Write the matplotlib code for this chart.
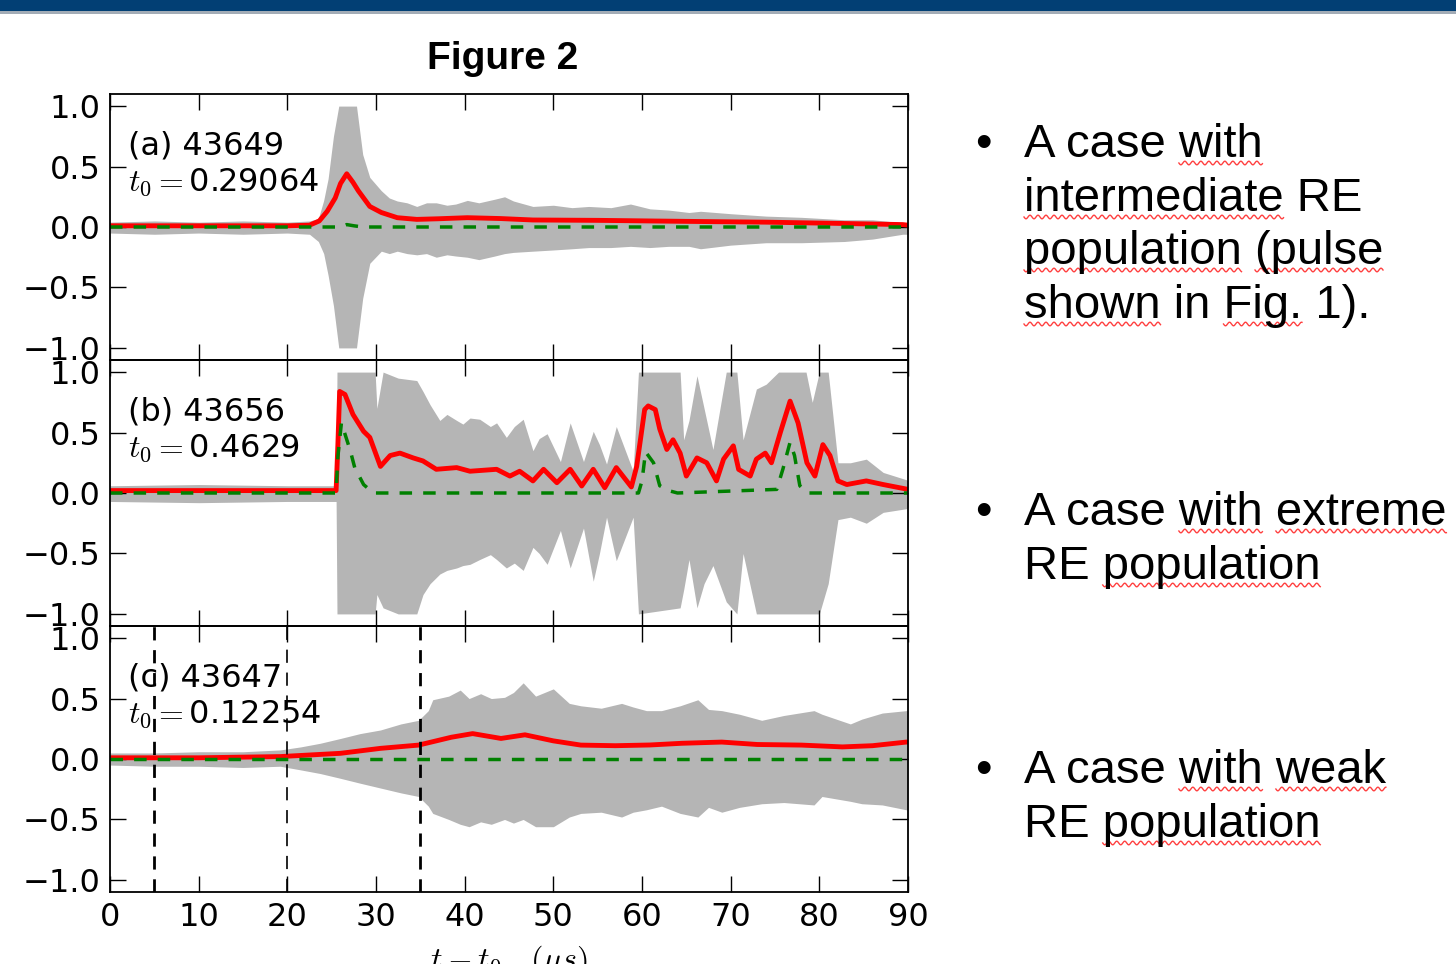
import numpy as np
import matplotlib
matplotlib.use("Agg")
import matplotlib.pyplot as plt
from matplotlib.patches import Rectangle
from matplotlib.lines import Line2D
from matplotlib.font_manager import FontProperties

plt.rcParams['font.family'] = 'DejaVu Sans'
plt.rcParams['mathtext.fontset'] = 'cm'
plt.rcParams['lines.scale_dashes'] = False

W, H = 1456, 964

# ---- shot 43649 (a) ----
xa_env = [0, 5, 10, 15, 20, 22.5, 23.5, 24.1, 24.6, 25.2, 25.8, 27.8, 28.5, 29.3, 30.6,
          31.5, 32.4, 33.5, 34.6, 35.7, 36.8, 38, 39, 40.3, 41.6, 43.4, 44.5, 45.5, 47.7, 50,
          52.1, 54, 56.5, 58.7, 60.9, 63, 65.3, 66.6, 70, 74, 78, 82.8, 86, 89.4, 90]
ua = [0.04, 0.05, 0.04, 0.05, 0.04, 0.05, 0.07, 0.22, 0.4, 0.75, 1.0, 1.0, 0.6, 0.41, 0.3,
      0.24, 0.215, 0.2, 0.17, 0.2, 0.2, 0.18, 0.19, 0.22, 0.2, 0.23, 0.25, 0.215, 0.17, 0.18,
      0.16, 0.17, 0.16, 0.19, 0.15, 0.14, 0.12, 0.13, 0.11, 0.09, 0.08, 0.06, 0.06, 0.035, 0.03]
la = [-0.05, -0.06, -0.05, -0.06, -0.05, -0.06, -0.12, -0.22, -0.4, -0.65, -1.0, -1.0, -0.59, -0.3, -0.2,
      -0.22, -0.2, -0.22, -0.23, -0.22, -0.25, -0.23, -0.24, -0.25, -0.27, -0.24, -0.22, -0.21, -0.2, -0.19,
      -0.18, -0.17, -0.17, -0.16, -0.17, -0.16, -0.16, -0.18, -0.15, -0.13, -0.13, -0.12, -0.1, -0.06, -0.06]
xa_red = [0, 10, 20, 22.5, 23.6, 24.5, 25.4, 26.0, 26.7, 27.4, 28.0, 29.3, 30.6,
          32.4, 34.6, 37, 40.3, 44, 47.7, 55, 60.9, 67, 74, 82, 89.4, 90]
ya_red = [0.01, 0.01, 0.01, 0.015, 0.05, 0.13, 0.24, 0.36, 0.44, 0.37, 0.30, 0.17, 0.12,
          0.077, 0.063, 0.068, 0.077, 0.07, 0.058, 0.055, 0.05, 0.045, 0.04, 0.03, 0.02, 0.015]
xa_green = [0, 26.0, 26.7, 27.5, 28.5, 90]
ya_green = [0, 0, 0.02, 0.01, 0, 0]

# ---- shot 43656 (b) ----
xb_env = [0, 10, 20, 25.5, 25.6, 29.9, 30.1, 30.8, 32.5, 34.6, 35.3, 36.1, 37.2, 38, 39.1,
          39.8, 40.6, 41.7, 42.9, 43.6, 44.7, 45.6, 46.6, 47.7, 48.4, 49.3, 50.8, 51.9, 53.4, 54.5,
          55.2, 56.0, 57.1, 59.0, 59.6, 64.3, 64.7, 65.3, 66.2, 67.0, 68.0, 69.5, 70.7, 71.4, 72.9,
          74.0, 75.4, 78.5, 79.2, 80.0, 81.0, 82.1, 83.5, 85.3, 87.2, 89.8, 90]
ub = [0.06, 0.07, 0.06, 0.06, 1.0, 1.0, 0.7, 1.0, 0.95, 0.93, 0.84, 0.73, 0.6, 0.65, 0.6,
      0.57, 0.62, 0.61, 0.55, 0.58, 0.46, 0.55, 0.61, 0.35, 0.45, 0.49, 0.26, 0.58, 0.26, 0.51,
      0.4, 0.24, 0.55, 0.18, 1.0, 1.0, 0.44, 0.6, 0.97, 0.7, 0.36, 1.0, 1.0, 0.44, 0.86,
      0.9, 1.0, 1.0, 0.75, 1.0, 1.0, 0.25, 0.25, 0.28, 0.17, 0.11, 0.1]
lb = [-0.07, -0.08, -0.07, -0.07, -1.0, -1.0, -0.84, -0.95, -1.0, -1.0, -0.84, -0.75, -0.67, -0.64, -0.62,
      -0.6, -0.59, -0.55, -0.51, -0.55, -0.62, -0.58, -0.64, -0.45, -0.5, -0.59, -0.31, -0.62, -0.29, -0.73,
      -0.5, -0.2, -0.56, -0.2, -1.0, -0.95, -0.8, -0.55, -0.95, -0.75, -0.6, -0.9, -1.0, -0.5, -1.0,
      -1.0, -1.0, -1.0, -1.0, -1.0, -0.75, -0.22, -0.2, -0.25, -0.16, -0.13, -0.12]
xb_red = [0, 10, 20, 25.5, 25.7, 25.9, 26.5, 27.4, 28.6, 29.3, 30.5, 31.6, 32.7, 34.2, 35.3,
          36.8, 39.1, 40.6, 43.6, 45.1, 46.2, 47.7, 48.9, 50.4, 51.9, 53.2, 54.5, 55.8, 57.1, 58.8,
          59.4, 60.3, 60.7, 61.5, 62.0, 62.8, 63.5, 64.3, 65.0, 66.2, 67.3, 68.4, 69.2, 70.3, 70.9,
          72.2, 72.9, 73.9, 74.6, 75.6, 76.7, 77.6, 78.6, 79.5, 80.4, 81.2, 82.1, 83.1, 85.3, 87.2, 90]
yb_red = [0.02, 0.02, 0.02, 0.02, 0.4, 0.84, 0.815, 0.65, 0.51, 0.46, 0.22, 0.31, 0.33, 0.29, 0.265,
          0.196, 0.21, 0.18, 0.196, 0.14, 0.18, 0.10, 0.196, 0.085, 0.196, 0.058, 0.196, 0.044, 0.21, 0.05,
          0.22, 0.69, 0.72, 0.69, 0.53, 0.36, 0.44, 0.33, 0.14, 0.29, 0.25, 0.10, 0.28, 0.39, 0.195,
          0.14, 0.28, 0.33, 0.25, 0.50, 0.76, 0.58, 0.25, 0.14, 0.40, 0.31, 0.10, 0.07, 0.10, 0.07, 0.03]
xb_green = [0, 25.5, 25.7, 26.1, 27.1, 27.6, 28.6, 29.7, 59.6, 60.0, 60.4, 61.3, 62.0, 63.0, 64.0,
            75.2, 75.9, 76.7, 77.2, 77.8, 78.6, 90]
yb_green = [0, 0, 0.3, 0.58, 0.35, 0.21, 0.07, 0, 0, 0.1, 0.34, 0.25, 0.06, 0.02, 0,
            0.03, 0.2, 0.42, 0.31, 0.06, 0, 0]

# ---- shot 43647 (c) ----
xc_env = [0, 5, 10, 15, 19.2, 21.5, 23.7, 26, 28.2, 30.5, 32.8, 34.8, 35.9, 36.4, 38.2,
          39.5, 40.5, 41.8, 43, 44.5, 45.5, 46.6, 48, 50, 51.8, 53.1, 55.4, 57.7, 59, 60.5,
          62.2, 64.3, 66.3, 67.5, 69, 71, 73.5, 76, 79.4, 80.3, 83.5, 84.8, 87.1, 89.8, 90]
uc = [0.05, 0.05, 0.06, 0.06, 0.075, 0.1, 0.13, 0.17, 0.21, 0.24, 0.29, 0.32, 0.4, 0.49, 0.52,
      0.57, 0.5, 0.54, 0.5, 0.51, 0.55, 0.63, 0.52, 0.58, 0.46, 0.44, 0.42, 0.46, 0.43, 0.4,
      0.4, 0.44, 0.49, 0.41, 0.4, 0.37, 0.32, 0.36, 0.4, 0.37, 0.29, 0.33, 0.38, 0.4, 0.4]
lc = [-0.05, -0.06, -0.06, -0.07, -0.06, -0.09, -0.12, -0.16, -0.2, -0.24, -0.28, -0.31, -0.39, -0.45, -0.5,
      -0.54, -0.56, -0.52, -0.54, -0.5, -0.53, -0.5, -0.56, -0.56, -0.48, -0.45, -0.44, -0.48, -0.44, -0.42,
      -0.39, -0.45, -0.48, -0.4, -0.44, -0.4, -0.37, -0.36, -0.38, -0.31, -0.35, -0.37, -0.38, -0.42, -0.42]
xc_red = [0, 10, 19.2, 26, 30.5, 34.8, 36.4, 38.5, 40.9, 44.1, 46.8, 50,
          53.1, 57, 60.9, 64.5, 69, 73, 78, 82.6, 86, 89.8, 90]
yc_red = [0.01, 0.01, 0.02, 0.047, 0.088, 0.115, 0.143, 0.18, 0.21, 0.17, 0.2, 0.15,
          0.115, 0.11, 0.116, 0.13, 0.14, 0.12, 0.115, 0.1, 0.11, 0.14, 0.14]
xc_green = [0, 90]
yc_green = [0, 0]
c_marks = [5, 20, 35]
c_mark_lw = [2.0, 1.2, 2.0]

panels = [
    ("(a) 43649", "0.29064", xa_env, ua, la, xa_red, ya_red, xa_green, ya_green),
    ("(b) 43656", "0.4629", xb_env, ub, lb, xb_red, yb_red, xb_green, yb_green),
    ("(c) 43647", "0.12254", xc_env, uc, lc, xc_red, yc_red, xc_green, yc_green),
]

bullets = [
    (["A case with", "intermediate RE", "population (pulse", "shown in Fig. 1)."], [157, 211, 264, 318],
     [["with"], ["intermediate"], ["population", "(pulse"], ["shown", "Fig."]]),
    (["A case with extreme", "RE population"], [525, 579], [["with", "extreme"], ["population"]]),
    (["A case with weak", "RE population"], [783, 837], [["with", "weak"], ["population"]]),
]

fig = plt.figure(figsize=(W / 100, H / 100), dpi=100)

# header bar
fig.add_artist(Rectangle((0, 1 - 11 / H), 1, 11 / H, transform=fig.transFigure,
                         color='#023f74', lw=0, zorder=5))
fig.add_artist(Rectangle((0, 1 - 14 / H), 1, 3 / H, transform=fig.transFigure,
                         color='#a3acb6', lw=0, zorder=5))

fig.text(503 / W, 1 - 59 / H, "Figure 2", ha='center', va='center', fontsize=28,
         fontweight='bold', family='Liberation Sans')

left, width, height = 110 / W, 798 / W, 266 / H
tops = [94, 360, 626]
axes = []
for i, (lab, t0, xe, up, lo, xr, yr, xg, yg) in enumerate(panels):
    ax = fig.add_axes([left, 1 - (tops[i] + 266) / H, width, height])
    ax.set_facecolor('none')
    ax.fill_between(xe, lo, up, color='#b5b5b5', lw=0)
    ax.plot(xr, yr, color='red', lw=3.5)
    ax.plot(xg, yg, color='green', lw=2.5, ls='--', dashes=(9, 8))
    ax.text(2.0, 0.6, lab, fontsize=23)
    ax.text(2.0, 0.3, r"$t_0=$" + t0, fontsize=23)
    ax.set_xlim(0, 90)
    ax.set_ylim(-1.1, 1.1)
    ax.set_xticks(range(0, 100, 10))
    ax.set_yticks([-1.0, -0.5, 0.0, 0.5, 1.0])
    ax.tick_params(direction='in', length=11.5, width=1, top=True, right=True,
                   labelsize=23, pad=7)
    for s in ax.spines.values():
        s.set_linewidth(1.3)
    if i < 2:
        ax.tick_params(labelbottom=False)
    axes.append(ax)

axc = axes[2]
for xm, lw in zip(c_marks, c_mark_lw):
    axc.axvline(xm, color='black', lw=lw, ls='--', dashes=(9.5, 7))
axc.set_xlabel(r"$t-t_0\quad(\mu s)$", fontsize=23, labelpad=8)

# bullet list with spell-check underlines
renderer = fig.canvas.get_renderer()
prop = FontProperties(family='Liberation Sans', size=34)


def text_w(s):
    w, h, d = renderer.get_text_width_height_descent(s, prop, ismath=False)
    return w


x0 = 1024
for lines, bases, marks in bullets:
    fig.text(975 / W, 1 - bases[0] / H, "\u2022", fontproperties=prop, va='baseline')
    for line, yb, words in zip(lines, bases, marks):
        fig.text(x0 / W, 1 - yb / H, line, fontproperties=prop, va='baseline')
        for word in words:
            k = line.index(word)
            end = x0 + text_w(line[:k + len(word)])
            start = end - text_w(word)
            xs = np.arange(start, end, 0.5)
            ys = yb + 6 + 1.8 * np.sin(2 * np.pi * (xs - start) / 8.0)
            fig.add_artist(Line2D(xs / W, 1 - ys / H, transform=fig.transFigure,
                                  color='#ff4040', lw=1.0))

fig.savefig('out.png', dpi=100)
